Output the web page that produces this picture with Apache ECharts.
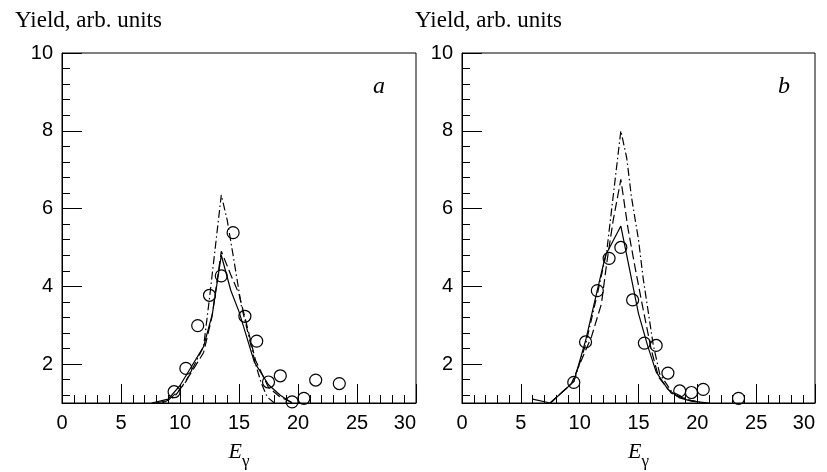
<!DOCTYPE html>
<html>
<head>
<meta charset="utf-8">
<script src="https://cdn.jsdelivr.net/npm/echarts@6/dist/echarts.min.js"></script>
<style>
  html, body { margin: 0; padding: 0; background: #fff; }
  #chart { width: 827px; height: 472px; }
</style>
</head>
<body>
<div id="chart"></div>
<script>
// measured points (circles)
const energyA = [9.5, 10.5, 11.5, 12.5, 13.5, 14.5, 15.5, 16.5, 17.5, 18.5, 19.5, 20.5, 21.5, 23.5]
const yieldA = [1.29, 1.89, 2.99, 3.77, 4.27, 5.38, 3.23, 2.59, 1.54, 1.70, 1.03, 1.12, 1.59, 1.50]
const energyB = [9.5, 10.5, 11.5, 12.5, 13.5, 14.5, 15.5, 16.5, 17.5, 18.5, 19.5, 20.5, 23.5]
const yieldB = [1.53, 2.57, 3.89, 4.72, 5.0, 3.65, 2.54, 2.48, 1.77, 1.31, 1.27, 1.35, 1.12]

// calculated curves, [E, yield]
const solidA = [[7.6, 1.0], [9, 1.1], [10, 1.45], [11, 1.95], [12, 2.45], [12.75, 3.3], [13.5, 4.8], [14.3, 3.9], [15.0, 3.35], [16.3, 2.05], [17.5, 1.47], [18.5, 1.2], [19.5, 1.0]]
const dashA = [[8, 1.0], [9, 1.07], [10, 1.35], [11, 1.8], [12, 2.3], [12.7, 3.2], [13.5, 4.9], [14.3, 4.3], [15, 3.8], [15.5, 3.2], [16.4, 2.1], [17.5, 1.4], [18.5, 1.15], [19.6, 1.0]]
const dashDotA = [[8.5, 1.0], [9.5, 1.15], [10.5, 1.55], [11.5, 2.15], [12.0, 2.45], [12.5, 3.7], [13.5, 6.35], [14.0, 5.7], [14.5, 4.8], [15.2, 3.5], [15.6, 3.0], [16.4, 2.0], [16.9, 1.5], [17.4, 1.15], [18, 1.0]]
const solidB = [[6, 1.1], [7.5, 1.0], [9.5, 1.55], [10.5, 2.6], [11.5, 3.9], [12.2, 4.8], [13.5, 5.55], [15.0, 3.3], [15.8, 2.45], [16.5, 1.8], [17.5, 1.35], [18.5, 1.13], [19.5, 1.05], [21, 1.0]]
const dashB = [[7.5, 1.0], [9.3, 1.5], [10, 2.0], [11, 2.7], [11.85, 3.55], [12.3, 4.6], [12.85, 5.7], [13.5, 6.75], [14.1, 5.5], [14.7, 4.5], [15.4, 3.4], [16.1, 2.35], [16.7, 1.67], [17.8, 1.25], [19.2, 1.08], [20.5, 1.0]]
const dashDotB = [[7.5, 1.0], [9.5, 1.55], [10.5, 2.5], [11.5, 3.8], [12.3, 4.9], [13.5, 8.0], [14.0, 7.3], [14.4, 6.3], [15.0, 5.2], [15.4, 4.2], [15.8, 3.4], [16.25, 2.5], [16.8, 1.75], [17.8, 1.3], [19.2, 1.08], [20.5, 1.0]]

// tick labels
const yMajor = [2, 4, 6, 8, 10]
const yMinor = [1.2, 1.6, 2.4, 2.8, 3.2, 3.6, 4.4, 4.8, 5.2, 5.6, 6.4, 6.8, 7.2, 7.6, 8.4, 8.8, 9.2, 9.6]
const panelLetters = ['a', 'b']

const sansFont = '"Liberation Sans", Arial, sans-serif'
const serifFont = '"Liberation Serif", "Times New Roman", serif'

const toPairs = (xs, ys) => xs.map((x, i) => [x, ys[i]])

const chart = echarts.init(document.getElementById('chart'))

const grids = [
    { left: 62, top: 53, width: 354, height: 350 },
    { left: 462, top: 53, width: 353, height: 350 },
]

const xAxes = grids.map((g, i) => ({
    type: 'value',
    gridIndex: i,
    min: 0,
    max: 30,
    interval: 5,
    name: '{e|E}{g|γ}',
    nameLocation: 'middle',
    nameGap: 38,
    nameTextStyle: {
        rich: {
            e: { fontFamily: serifFont, fontStyle: 'italic', fontSize: 22, color: '#000', verticalAlign: 'bottom' },
            g: { fontFamily: serifFont, fontSize: 17, color: '#000', verticalAlign: 'bottom', padding: [0, 0, -7, 0] },
        },
    },
    axisLine: { show: true, lineStyle: { color: '#000', width: 1 } },
    axisTick: { show: true, inside: true, length: 19, lineStyle: { color: '#000', width: 1 } },
    minorTick: { show: true, splitNumber: 5, length: 8, lineStyle: { color: '#000', width: 1 } },
    axisLabel: { color: '#000', fontFamily: sansFont, fontSize: 20, margin: 10, alignMaxLabel: 'right' },
    splitLine: { show: false },
}))

const yAxes = []
grids.forEach((g, i) => {
    // major ticks + labels
    yAxes.push({
        type: 'value',
        gridIndex: i,
        position: 'left',
        min: 1,
        max: 10,
        axisLine: { show: true, lineStyle: { color: '#000', width: 1 } },
        axisTick: { show: true, inside: true, length: 20, customValues: yMajor, lineStyle: { color: '#000', width: 1 } },
        axisLabel: { color: '#000', fontFamily: sansFont, fontSize: 20, margin: 9, customValues: yMajor },
        splitLine: { show: false },
    })
    // minor ticks
    yAxes.push({
        type: 'value',
        gridIndex: i,
        position: 'left',
        min: 1,
        max: 10,
        axisLine: { show: false },
        axisTick: { show: true, inside: true, length: 8, customValues: yMinor, lineStyle: { color: '#000', width: 1 } },
        axisLabel: { show: false },
        splitLine: { show: false },
    })
})

const lineSeries = (data, i, dash) => ({
    type: 'line',
    xAxisIndex: i,
    yAxisIndex: i * 2,
    data: data,
    symbol: 'none',
    smooth: false,
    lineStyle: { color: '#000', width: 1.2, type: dash },
    silent: true,
    z: 2,
})

const pointSeries = (data, i) => ({
    type: 'scatter',
    xAxisIndex: i,
    yAxisIndex: i * 2,
    data: data,
    symbol: 'circle',
    symbolSize: 12,
    itemStyle: { color: 'rgba(0,0,0,0)', borderColor: '#000', borderWidth: 1.2, opacity: 1 },
    z: 3,
})

chart.setOption({
    animation: false,
    title: [
        { text: 'Yield, arb. units', left: 10, top: 4, textStyle: { fontFamily: serifFont, fontSize: 23, fontWeight: 'normal', color: '#000' } },
        { text: 'Yield, arb. units', left: 410, top: 4, textStyle: { fontFamily: serifFont, fontSize: 23, fontWeight: 'normal', color: '#000' } },
        { text: panelLetters[0], left: 368, top: 70, textStyle: { fontFamily: serifFont, fontSize: 24, fontStyle: 'italic', fontWeight: 'normal', color: '#000' } },
        { text: panelLetters[1], left: 773, top: 70, textStyle: { fontFamily: serifFont, fontSize: 24, fontStyle: 'italic', fontWeight: 'normal', color: '#000' } },
    ],
    grid: grids.map(g => Object.assign({ show: true, borderColor: '#000', borderWidth: 1, backgroundColor: 'transparent', outerBoundsMode: 'none', containLabel: false }, g)),
    xAxis: xAxes,
    yAxis: yAxes,
    series: [
        lineSeries(solidA, 0, 'solid'),
        lineSeries(dashA, 0, [9, 4]),
        lineSeries(dashDotA, 0, [8, 3, 1.5, 3]),
        pointSeries(toPairs(energyA, yieldA), 0),
        lineSeries(solidB, 1, 'solid'),
        lineSeries(dashB, 1, [9, 4]),
        lineSeries(dashDotB, 1, [8, 3, 1.5, 3]),
        pointSeries(toPairs(energyB, yieldB), 1),
    ],
})
</script>
</body>
</html>
